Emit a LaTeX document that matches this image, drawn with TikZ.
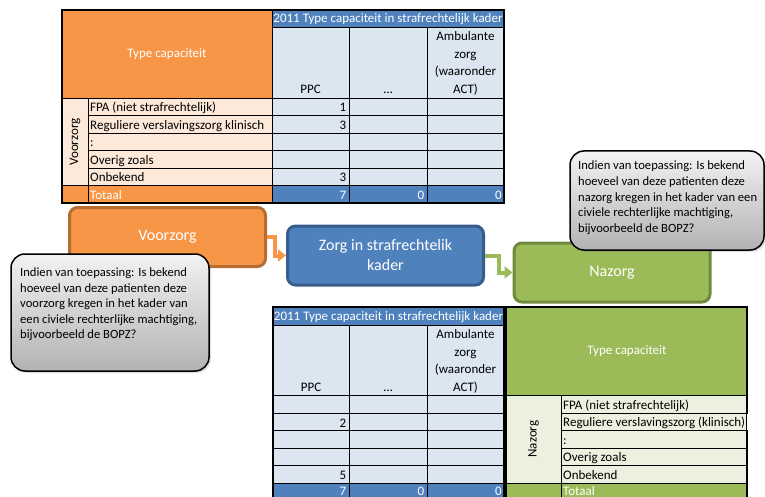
\documentclass[tikz,border=0pt]{standalone}
\usepackage{fontspec}
\setmainfont{Carlito}
\usetikzlibrary{arrows.meta,shadows}
\definecolor{cOr}{HTML}{F79646}
\definecolor{cOrL}{HTML}{FDE9D9}
\definecolor{cOrD}{HTML}{B66D31}
\definecolor{cBl}{HTML}{4F81BD}
\definecolor{cBlL}{HTML}{DCE6F1}
\definecolor{cBlD}{HTML}{385D8A}
\definecolor{cGr}{HTML}{9BBB59}
\definecolor{cGrL}{HTML}{EBF1DE}
\definecolor{cGrD}{HTML}{71893F}
\tikzset{
  gridline/.style={draw=black,line width=0.9pt},
  outerline/.style={draw=black,line width=1.6pt},
  ctext/.style={inner sep=0pt,font=\fontsize{13}{15}\selectfont},
  lbl/.style={ctext,anchor=base west},
  num/.style={ctext,anchor=base east},
  hdr/.style={ctext,anchor=base},
  flowbox/.style={rounded corners=8pt,line width=3pt,minimum width=196pt,minimum height=59pt,
    text=white,font=\fontsize{16}{20}\selectfont,align=center,inner sep=0pt},
  callout/.style={rounded corners=14pt,draw=black,line width=1.5pt,top color=black!5,bottom color=black!30,
    drop shadow={shadow xshift=2pt,shadow yshift=-2pt,opacity=0.25}},
  ctline/.style={inner sep=0pt,anchor=base west,font=\fontsize{12.6}{15}\selectfont},
  conn/.style={line width=4pt,-{Triangle[length=8pt,width=12pt]}},
}
\begin{document}
\begin{tikzpicture}[x=1pt,y=-1pt]
\useasboundingbox (0,0) rectangle (765,497);
\begin{scope}
\clip (0,0) rectangle (765,497);
% ================= top table =================
\fill[cOr] (62,10) rectangle (272,98);
\fill[cBl] (272,10) rectangle (504,27);
\fill[cBlL] (272,27) rectangle (504,185.5);
\fill[cOrL] (62,98) rectangle (272,185.5);
\fill[cOr] (62,185.5) rectangle (272,203);
\fill[cBl] (272,185.5) rectangle (504,203);
\foreach \y in {115.5,133,150.5,168} \draw[gridline] (88,\y) -- (504,\y);
\draw[gridline] (62,98) -- (504,98);
\draw[gridline] (62,185.5) -- (504,185.5);
\draw[gridline] (272,27) -- (504,27);
\foreach \x in {349,427} \draw[gridline] (\x,27) -- (\x,203);
\draw[gridline] (272,10) -- (272,203);
\draw[gridline] (88,98) -- (88,203);
\draw[outerline] (62,10) rectangle (504,203);
\node[ctext,text=white] (tTC) at (167,54) {Type capaciteit};
\node[hdr,text=white] (tTitle) at (388,23) {2011 Type capaciteit in strafrechtelijk kader};
\node[hdr] (tPPC) at (310.5,94) {PPC};
\node[hdr] (tDots) at (388,94) {…};
\foreach \t [count=\i] in {{Ambulante},{zorg},{(waaronder},{ACT)}}
  \node[hdr] (tAmb\i) at (465.5,23.5+17.5*\i) {\t};
\node[ctext,rotate=90] (tVoor) at (75,142) {Voorzorg};
\foreach \t [count=\i] in {{FPA (niet strafrechtelijk)},{Reguliere verslavingszorg klinisch},{:},{Overig zoals},{Onbekend}}
  \node[lbl] (tRow\i) at (90,94.5+17.5*\i) {\t};
\node[lbl,text=white] (tTot) at (90,199.5) {Totaal};
\node[num] (tN1) at (346.5,112) {1};
\node[num] (tN2) at (346.5,129.5) {3};
\node[num] (tN5) at (346.5,182) {3};
\node[num,text=white] (tS1) at (346.5,199.5) {7};
\node[num,text=white] (tS2) at (424.5,199.5) {0};
\node[num,text=white] (tS3) at (502,199.5) {0};
% ================= bottom table (blue part) =================
\fill[cBl] (273,307) rectangle (504,325);
\fill[cBlL] (273,325) rectangle (504,483);
\fill[cBl] (273,483) rectangle (504,505);
\foreach \y in {325,395.5,413,430.5,448,465.5,483} \draw[gridline] (273,\y) -- (504,\y);
\foreach \x in {349,427} \draw[gridline] (\x,325) -- (\x,505);
\draw[outerline] (273,307) rectangle (504,505);
\node[hdr,text=white] (bTitle) at (388.5,320.5) {2011 Type capaciteit in strafrechtelijk kader};
\node[hdr] (bPPC) at (311,391.5) {PPC};
\node[hdr] (bDots) at (388,391.5) {…};
\foreach \t [count=\i] in {{Ambulante},{zorg},{(waaronder},{ACT)}}
  \node[hdr] (bAmb\i) at (465.5,321+17.5*\i) {\t};
\node[num] (bN2) at (346.5,427) {2};
\node[num] (bN5) at (346.5,479.5) {5};
\node[num,text=white] (bS1) at (346.5,495) {7};
\node[num,text=white] (bS2) at (424.5,495) {0};
\node[num,text=white] (bS3) at (502,495) {0};
% ================= bottom table (green part) =================
\fill[cGr] (506,307) rectangle (747,395.5);
\fill[cGrL] (506,395.5) rectangle (747,483);
\fill[cGr] (506,483) rectangle (747,505);
\foreach \y in {413,430.5,448,465.5} \draw[gridline] (561,\y) -- (747,\y);
\foreach \y in {395.5,483} \draw[gridline] (506,\y) -- (747,\y);
\draw[gridline] (561,395.5) -- (561,505);
\draw[outerline] (506,307) rectangle (747,505);
\fill[white] (746.5,414) rectangle (756,430);
\node[ctext,text=white] (gTC) at (627,351) {Type capaciteit};
\node[ctext,rotate=90] (gNa) at (533.5,439) {Nazorg};
\foreach \t [count=\i] in {{FPA (niet strafrechtelijk)},{Reguliere verslavingszorg (klinisch)},{:},{Overig zoals},{Onbekend}}
  \node[lbl] (gRow\i) at (563,391.5+17.5*\i) {\t};
\node[lbl,text=white] (gTot) at (563,495) {Totaal};
% ================= flow boxes =================
\node[flowbox,fill=cOr,draw=cOrD] (vz) at (167.5,237) {Voorzorg};
\node[flowbox,fill=cBl,draw=cBlD] (zs) at (385.5,255.5) {Zorg in strafrechtelik\\kader};
\node[flowbox,fill=cGr,draw=cGrD] (nz) at (612,272.5) {Nazorg};
\draw[conn,cOr] (vz.east) -- ++(8,0) |- (zs.west);
\draw[conn,cGr] (zs.east) -- ++(14,0) |- (nz.west);
% ================= callouts =================
\path[callout] (11,254) rectangle (209,371);
\foreach \t [count=\i] in {{Indien van toepassing: Is bekend},{hoeveel van deze patienten deze},{voorzorg kregen in het kader van},{een civiele rechterlijke machtiging,},{bijvoorbeeld de BOPZ?}}
  \node[ctline] (lc\i) at (20,261+15.5*\i) {\t};
\path[callout] (570,151) rectangle (764,250);
\foreach \t [count=\i] in {{Indien van toepassing: Is bekend},{hoeveel van deze patienten deze},{nazorg kregen in het kader van een},{civiele rechterlijke machtiging,},{bijvoorbeeld de BOPZ?}}
  \node[ctline] (rc\i) at (578,154.5+15.5*\i) {\t};
\end{scope}
\end{tikzpicture}
\end{document}
